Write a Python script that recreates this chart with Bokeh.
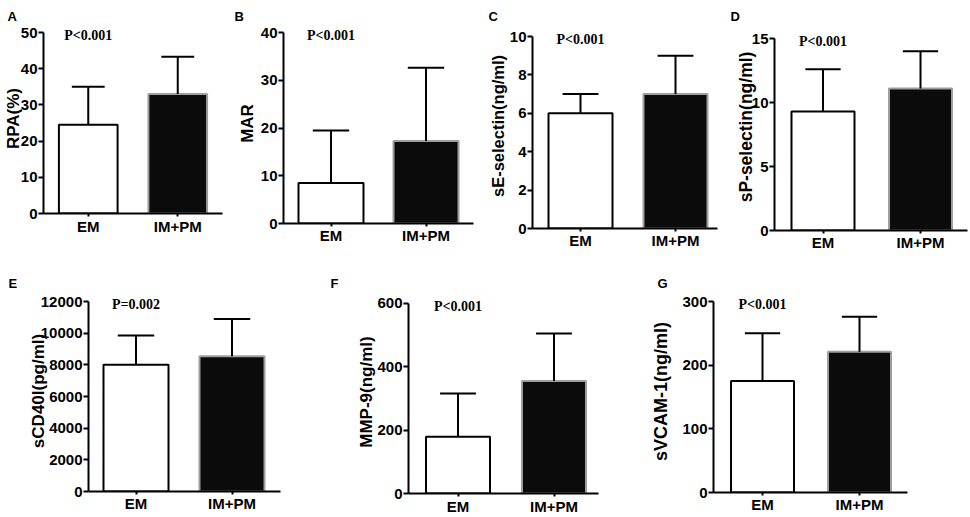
from bokeh.plotting import figure
from bokeh.models import ColumnDataSource, FixedTicker, Range1d
from bokeh.layouts import row, column
from bokeh.core.properties import value
from bokeh.embed import file_html
from bokeh.resources import INLINE

# ---------------- data ----------------
groups = ["EM", "IM+PM"]
panel_letters = ["A", "B", "C", "D", "E", "F", "G"]
y_titles = ["RPA(%)", "MAR", "sE-selectin(ng/ml)", "sP-selectin(ng/ml)",
            "sCD40l(pg/ml)", "MMP-9(ng/ml)", "sVCAM-1(ng/ml)"]
p_texts = ["P<0.001", "P<0.001", "P<0.001", "P<0.001", "P=0.002", "P<0.001", "P<0.001"]

rpa_mean = [24.5, 33.0]
rpa_sd = [10.5, 10.3]
mar_mean = [8.5, 17.3]
mar_sd = [11.0, 15.3]
sesel_mean = [6.0, 7.0]
sesel_sd = [1.0, 2.0]
spsel_mean = [9.3, 11.1]
spsel_sd = [3.3, 2.9]
scd40l_mean = [8000, 8550]
scd40l_sd = [1850, 2350]
mmp9_mean = [179, 355]
mmp9_sd = [137, 150]
svcam_mean = [175, 221]
svcam_sd = [75, 55]

rpa_ticks = [0, 10, 20, 30, 40, 50]
mar_ticks = [0, 10, 20, 30, 40]
sesel_ticks = [0, 2, 4, 6, 8, 10]
spsel_ticks = [0, 5, 10, 15]
scd40l_ticks = [0, 2000, 4000, 6000, 8000, 10000, 12000]
mmp9_ticks = [0, 200, 400, 600]
svcam_ticks = [0, 100, 200, 300]

means = [rpa_mean, mar_mean, sesel_mean, spsel_mean, scd40l_mean, mmp9_mean, svcam_mean]
sds = [rpa_sd, mar_sd, sesel_sd, spsel_sd, scd40l_sd, mmp9_sd, svcam_sd]
ticks = [rpa_ticks, mar_ticks, sesel_ticks, spsel_ticks, scd40l_ticks, mmp9_ticks, svcam_ticks]

# ---------------- layout (page pixels) ----------------
# fig: (l, t, r, b); L: y-axis x; R: x-axis end; Tt: top tick y; B: baseline y;
# Te: frame top; c: bar centres; bw: bar width; ytx: y-title centre x;
# lx: letter left x; yfs: y-title font size; xs: x tick label standoff
layout = [
    dict(fig=(0, 0, 232, 258), L=42, R=222, Tt=32, B=213, Te=23, c=(87, 177), bw=59, ytx=15, lx=6, yfs=17, xs=1),
    dict(fig=(232, 0, 480, 258), L=283, R=473, Tt=32, B=223, Te=23, c=(330.5, 425.5), bw=65, ytx=250, lx=234, yfs=17, xs=0),
    dict(fig=(480, 0, 720, 258), L=532, R=717, Tt=36, B=228, Te=23, c=(580, 675), bw=64, ytx=500, lx=488, yfs=16.5, xs=0),
    dict(fig=(720, 0, 970, 258), L=774, R=967, Tt=38, B=230, Te=23, c=(822.5, 920), bw=63, ytx=749, lx=730, yfs=17.5, xs=0),
    dict(fig=(0, 258, 320, 517), L=88, R=280, Tt=301, B=491, Te=290, c=(135.5, 231.5), bw=65, ytx=41, lx=8, yfs=17, xs=0),
    dict(fig=(320, 258, 640, 517), L=408, R=598, Tt=303, B=494, Te=290, c=(457.5, 553.5), bw=64, ytx=369, lx=330, yfs=17, xs=1),
    dict(fig=(640, 258, 970, 517), L=713, R=907, Tt=301, B=492, Te=290, c=(762, 859), bw=63, ytx=664, lx=657, yfs=18, xs=0),
]

SANS = "Liberation Sans"
SERIF = "Liberation Serif"
BAR_FILL = ["white", "#0b0b0b"]
BAR_LINE = ["black", "#9e9e9e"]
TICK_FS = 15
Y_TICK_OUT = 5
Y_LABEL_STANDOFF = 1


def make_panel(i):
    spec = layout[i]
    fl, ft, fr, fb = spec["fig"]
    L, R, Tt, B, Te = spec["L"], spec["R"], spec["Tt"], spec["B"], spec["Te"]
    c1, c2 = spec["c"]
    s = c2 - c1
    xstart = 1 - (c1 - L) / s
    xend = 2 + (R - c2) / s
    bw = spec["bw"] / s
    cap = bw * 0.56
    ymax = ticks[i][-1]
    yend = ymax * (B - Te) / (B - Tt)

    p = figure(width=fr - fl, height=fb - ft,
               x_range=Range1d(xstart, xend), y_range=Range1d(0, yend),
               output_backend="svg", toolbar_location=None,
               min_border_left=L - fl, min_border_right=fr - R,
               min_border_top=Te - ft, min_border_bottom=fb - B)
    p.frame_align = False
    p.outline_line_color = None
    p.xgrid.visible = False
    p.ygrid.visible = False
    p.background_fill_color = "white"
    p.border_fill_color = "white"

    # panel letter as title
    p.title.text = panel_letters[i]
    p.title.align = "left"
    p.title.offset = spec["lx"] - L
    p.title.standoff = 0
    p.title.text_font = SANS
    p.title.text_font_style = "bold"
    p.title.text_font_size = "13px"
    p.title.text_color = "black"

    xs = [1, 2]
    upper = [m + d for m, d in zip(means[i], sds[i])]
    src = ColumnDataSource(dict(
        x=xs, top=means[i], upper=upper,
        c0=[x - cap / 2 for x in xs], c1=[x + cap / 2 for x in xs],
        fill=BAR_FILL, line=BAR_LINE))

    p.vbar(x="x", top="top", bottom=0, width=bw, fill_color="fill",
           line_color="line", line_width=2, source=src)
    p.segment(x0="x", y0="top", x1="x", y1="upper", line_color="black",
              line_width=2, source=src)
    p.segment(x0="c0", y0="upper", x1="c1", y1="upper", line_color="black",
              line_width=2, source=src)

    # p-value text
    psrc = ColumnDataSource(dict(x=[1], y=[ymax], t=[p_texts[i]]))
    p.text(x="x", y="y", text="t", source=psrc, y_offset=3,
           text_align="center", text_baseline="middle",
           text_font=value(SERIF), text_font_style="bold",
           text_font_size="14px", text_color="black")

    for ax in (p.xaxis[0], p.yaxis[0]):
        ax.axis_line_width = 2
        ax.axis_line_color = "black"
        ax.major_tick_line_width = 2
        ax.major_tick_line_color = "black"
        ax.major_tick_in = 0
        ax.minor_tick_line_color = None
        ax.major_label_text_font = SANS
        ax.major_label_text_font_style = "bold"
        ax.major_label_text_font_size = f"{TICK_FS}px"
        ax.major_label_text_color = "black"

    p.xaxis.ticker = FixedTicker(ticks=xs)
    p.xaxis.major_label_overrides = {1: groups[0], 2: groups[1]}
    p.xaxis.major_tick_out = 3
    p.xaxis.major_label_standoff = spec["xs"]

    yax = p.yaxis[0]
    yax.ticker = FixedTicker(ticks=ticks[i])
    yax.bounds = (0, ymax)
    yax.major_tick_out = Y_TICK_OUT
    yax.major_label_standoff = Y_LABEL_STANDOFF
    yax.axis_label = y_titles[i]
    yax.axis_label_text_font = SANS
    yax.axis_label_text_font_style = "bold"
    yax.axis_label_text_font_size = f"{spec['yfs']}px"
    yax.axis_label_text_color = "black"
    tw = max(len(str(t)) for t in ticks[i]) * 0.556 * TICK_FS
    als = L - Y_TICK_OUT - Y_LABEL_STANDOFF - tw - 0.56 * spec["yfs"] - spec["ytx"]
    yax.axis_label_standoff = int(round(als))
    return p


panels = [make_panel(i) for i in range(7)]
top_row = row(*panels[:4], spacing=0)
bottom_row = row(*panels[4:], spacing=0)
page = column(top_row, bottom_row, spacing=0)

open("out.html", "w").write(file_html(page, INLINE))
